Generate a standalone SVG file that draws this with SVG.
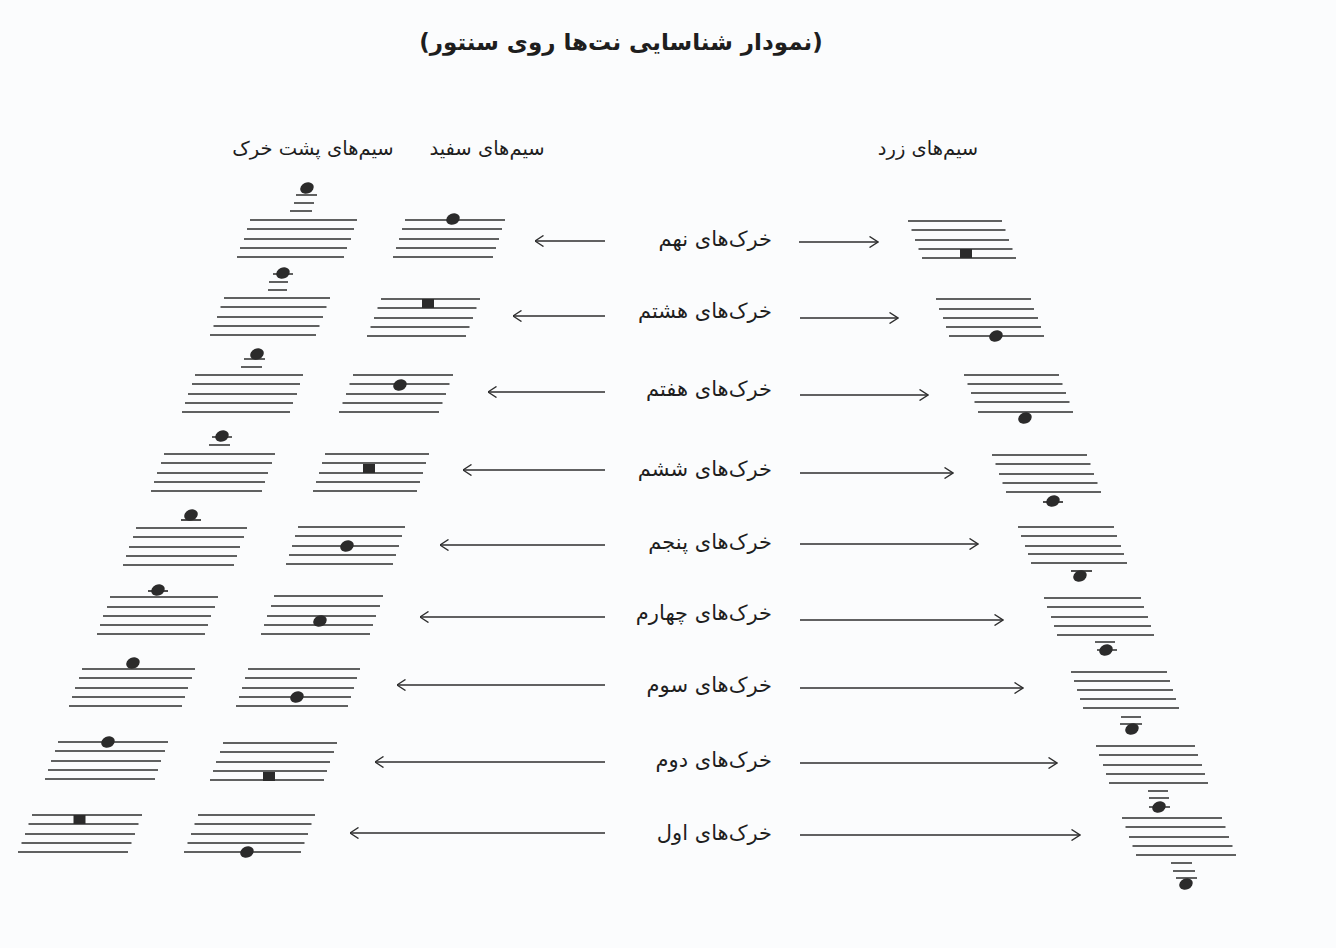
<svg xmlns="http://www.w3.org/2000/svg" width="1336" height="948" viewBox="0 0 1336 948">
<style>
.st{fill:none;stroke:#2e2e2e;stroke-width:1.7}
.lg{fill:none;stroke:#2e2e2e;stroke-width:1.7}
.nt{fill:#2b2b2b}
.ar{fill:none;stroke:#2e2e2e;stroke-width:1.4}
.tx{font-family:"DejaVu Sans",sans-serif;fill:#1e1e1e}
.lbl{font-size:21px}
.hd{font-size:19.5px}
.ti{font-size:23px;font-weight:bold}
</style>
<defs>
<marker id="ah" viewBox="0 0 10 12" refX="9.5" refY="6" markerWidth="10" markerHeight="12" markerUnits="userSpaceOnUse" orient="auto">
<path d="M1,0.5 L9.5,6 L1,11.5" fill="none" stroke="#2e2e2e" stroke-width="1.4"/>
</marker>
</defs>
<rect width="1336" height="948" fill="#fbfcfd"/>

<text class="tx ti" x="621" y="50" text-anchor="middle" direction="rtl">(نمودار شناسایی نت‌ها روی سنتور)</text>

<g id="headers">
<text class="tx hd" x="313" y="155" text-anchor="middle" direction="rtl">سیم‌های پشت خرک</text>
<text class="tx hd" x="487" y="155" text-anchor="middle" direction="rtl">سیم‌های سفید</text>
<text class="tx hd" x="928" y="155" text-anchor="middle" direction="rtl">سیم‌های زرد</text>
</g>

<g id="labels">
<text class="tx lbl" x="772" y="246" direction="rtl" text-anchor="start">خرک‌های نهم</text>
<text class="tx lbl" x="772" y="318" direction="rtl" text-anchor="start">خرک‌های هشتم</text>
<text class="tx lbl" x="772" y="396" direction="rtl" text-anchor="start">خرک‌های هفتم</text>
<text class="tx lbl" x="772" y="476" direction="rtl" text-anchor="start">خرک‌های ششم</text>
<text class="tx lbl" x="772" y="549" direction="rtl" text-anchor="start">خرک‌های پنجم</text>
<text class="tx lbl" x="772" y="620" direction="rtl" text-anchor="start">خرک‌های چهارم</text>
<text class="tx lbl" x="772" y="692" direction="rtl" text-anchor="start">خرک‌های سوم</text>
<text class="tx lbl" x="772" y="767" direction="rtl" text-anchor="start">خرک‌های دوم</text>
<text class="tx lbl" x="772" y="840" direction="rtl" text-anchor="start">خرک‌های اول</text>
</g>

<g id="connectors">
<line class="ar" x1="605" y1="241" x2="535" y2="241" marker-end="url(#ah)"/>
<line class="ar" x1="605" y1="316" x2="513" y2="316" marker-end="url(#ah)"/>
<line class="ar" x1="605" y1="392" x2="488" y2="392" marker-end="url(#ah)"/>
<line class="ar" x1="605" y1="470" x2="463" y2="470" marker-end="url(#ah)"/>
<line class="ar" x1="605" y1="545" x2="440" y2="545" marker-end="url(#ah)"/>
<line class="ar" x1="605" y1="617" x2="420" y2="617" marker-end="url(#ah)"/>
<line class="ar" x1="605" y1="685" x2="397" y2="685" marker-end="url(#ah)"/>
<line class="ar" x1="605" y1="762" x2="375" y2="762" marker-end="url(#ah)"/>
<line class="ar" x1="605" y1="833" x2="350" y2="833" marker-end="url(#ah)"/>
<line class="ar" x1="799" y1="242" x2="878" y2="242" marker-end="url(#ah)"/>
<line class="ar" x1="800" y1="318" x2="898" y2="318" marker-end="url(#ah)"/>
<line class="ar" x1="800" y1="395" x2="928" y2="395" marker-end="url(#ah)"/>
<line class="ar" x1="800" y1="473" x2="953" y2="473" marker-end="url(#ah)"/>
<line class="ar" x1="800" y1="544" x2="978" y2="544" marker-end="url(#ah)"/>
<line class="ar" x1="800" y1="620" x2="1003" y2="620" marker-end="url(#ah)"/>
<line class="ar" x1="800" y1="688" x2="1023" y2="688" marker-end="url(#ah)"/>
<line class="ar" x1="800" y1="763" x2="1057" y2="763" marker-end="url(#ah)"/>
<line class="ar" x1="800" y1="835" x2="1080" y2="835" marker-end="url(#ah)"/>
</g>

<g id="back-9">
<path class="st" d="M250 220H357M247 229H354M244 239H351M240 248H347M237 257H344"/>
<path class="lg" d="M296 195H317M294 203H314M290 211H312"/>
<ellipse class="nt" cx="307" cy="188" rx="7" ry="5.5" transform="rotate(-25 307 188)"/>
</g>
<g id="back-8">
<path class="st" d="M224 298H330M220.5 307H326.5M217 317H323M213.5 326H319.5M210 335H316"/>
<path class="lg" d="M273 274H293M269 282H288M268 290H287"/>
<ellipse class="nt" cx="283" cy="273" rx="7" ry="5.5" transform="rotate(-25 283 273)"/>
</g>
<g id="back-7">
<path class="st" d="M195 375H303M192 384H300M188 394H297M185 403H293M182 412H290"/>
<path class="lg" d="M244 359H265M241 367H262"/>
<ellipse class="nt" cx="257" cy="354" rx="7" ry="5.5" transform="rotate(-25 257 354)"/>
</g>
<g id="back-6">
<path class="st" d="M164 454H275M161 463H272M157 473H268M154 482H265M151 491H262"/>
<path class="lg" d="M212 437H232M209 445H230"/>
<ellipse class="nt" cx="222" cy="436" rx="7" ry="5.5" transform="rotate(-25 222 436)"/>
</g>
<g id="back-5">
<path class="st" d="M136 528H247M133 537H244M129 547H240M126 556H237M123 565H234"/>
<path class="lg" d="M181 520H201"/>
<ellipse class="nt" cx="191" cy="515" rx="7" ry="5.5" transform="rotate(-25 191 515)"/>
</g>
<g id="back-4">
<path class="st" d="M110 597H218M107 607H215M103 616H211M100 625H208M97 634H205"/>
<path class="lg" d="M148 591H168"/>
<ellipse class="nt" cx="158" cy="590" rx="7" ry="5.5" transform="rotate(-25 158 590)"/>
</g>
<g id="back-3">
<path class="st" d="M82 669H195M79 678H192M75 688H188M72 697H185M69 706H182"/>
<ellipse class="nt" cx="133" cy="663" rx="7" ry="5.5" transform="rotate(-25 133 663)"/>
</g>
<g id="back-2">
<path class="st" d="M58 742H168M55 751H165M51 761H161M48 770H158M45 779H155"/>
<ellipse class="nt" cx="108" cy="742" rx="7" ry="5.5" transform="rotate(-25 108 742)"/>
</g>
<g id="back-1">
<path class="st" d="M32 815H142M28.5 824H138.5M25 834H135M21.5 843H131.5M18 852H128"/>
<rect class="nt" x="73.5" y="815" width="12" height="9"/>
</g>

<g id="white-9">
<path class="st" d="M405 220H505M402 229H502M399 239H499M396 248H496M393 257H493"/>
<ellipse class="nt" cx="453" cy="219" rx="7" ry="5.5" transform="rotate(-25 453 219)"/>
</g>
<g id="white-8">
<path class="st" d="M381 299H480M377.5 308H476.5M374 318H473M370.5 327H469.5M367 336H466"/>
<rect class="nt" x="422" y="299" width="12" height="9"/>
</g>
<g id="white-7">
<path class="st" d="M353 375H453M349.5 384H449.5M346 394H446M342.5 403H442.5M339 412H439"/>
<ellipse class="nt" cx="400" cy="385" rx="7" ry="5.5" transform="rotate(-25 400 385)"/>
</g>
<g id="white-6">
<path class="st" d="M325 454H429M322 463H426M319 473H423M316 482H420M313 491H417"/>
<rect class="nt" x="363" y="464" width="12" height="9"/>
</g>
<g id="white-5">
<path class="st" d="M298 527H405M295 536H402M292 546H399M289 555H396M286 564H393"/>
<ellipse class="nt" cx="347" cy="546" rx="7" ry="5.5" transform="rotate(-25 347 546)"/>
</g>
<g id="white-4">
<path class="st" d="M274 596H383M271 606H380M267 616H376M264 625H373M261 634H370"/>
<ellipse class="nt" cx="320" cy="621" rx="7" ry="5.5" transform="rotate(-25 320 621)"/>
</g>
<g id="white-3">
<path class="st" d="M248 669H360M245 678H357M242 688H354M239 697H351M236 706H348"/>
<ellipse class="nt" cx="297" cy="697" rx="7" ry="5.5" transform="rotate(-25 297 697)"/>
</g>
<g id="white-2">
<path class="st" d="M223 743H337M220 752H334M216 762H330M213 771H327M210 780H324"/>
<rect class="nt" x="263" y="772" width="12" height="9"/>
</g>
<g id="white-1">
<path class="st" d="M198 815H315M194.5 824H311.5M191 834H308M187.5 843H304.5M184 852H301"/>
<ellipse class="nt" cx="247" cy="852" rx="7" ry="5.5" transform="rotate(-25 247 852)"/>
</g>

<g id="yellow-9">
<path class="st" d="M908 221H1002M911.5 230H1005.5M915 240H1009M918.5 249H1012.5M922 258H1016"/>
<rect class="nt" x="960" y="249" width="12" height="9"/>
</g>
<g id="yellow-8">
<path class="st" d="M936 299H1031M939 309H1034M943 318H1038M946 327H1041M949 336H1044"/>
<ellipse class="nt" cx="996" cy="336" rx="7" ry="5.5" transform="rotate(-25 996 336)"/>
</g>
<g id="yellow-7">
<path class="st" d="M964 375H1059M967.5 384H1062.5M971 393H1066M974.5 402H1069.5M978 412H1073"/>
<ellipse class="nt" cx="1025" cy="418" rx="7" ry="5.5" transform="rotate(-25 1025 418)"/>
</g>
<g id="yellow-6">
<path class="st" d="M992 455H1087M995.5 464H1090.5M999 474H1094M1002.5 483H1097.5M1006 492H1101"/>
<path class="lg" d="M1043 502H1063"/>
<ellipse class="nt" cx="1053" cy="501" rx="7" ry="5.5" transform="rotate(-25 1053 501)"/>
</g>
<g id="yellow-5">
<path class="st" d="M1018 527H1114M1021 536H1117M1025 546H1121M1028 554H1124M1031 563H1127"/>
<path class="lg" d="M1071 571H1092"/>
<ellipse class="nt" cx="1080" cy="576" rx="7" ry="5.5" transform="rotate(-25 1080 576)"/>
</g>
<g id="yellow-4">
<path class="st" d="M1044 598H1141M1047 607H1144M1051 617H1148M1054 626H1151M1057 635H1154"/>
<path class="lg" d="M1095 642H1115M1097 650H1117"/>
<ellipse class="nt" cx="1106" cy="650" rx="7" ry="5.5" transform="rotate(-25 1106 650)"/>
</g>
<g id="yellow-3">
<path class="st" d="M1071 672H1167M1074 681H1170M1077 690H1173M1080 699H1176M1083 708H1179"/>
<path class="lg" d="M1121 717H1141M1120 724H1142"/>
<ellipse class="nt" cx="1132" cy="729" rx="7" ry="5.5" transform="rotate(-25 1132 729)"/>
</g>
<g id="yellow-2">
<path class="st" d="M1096 746H1195M1099 755H1198M1103 765H1202M1106 774H1205M1109 783H1208"/>
<path class="lg" d="M1148 791H1168M1149 798H1169M1149 807H1170"/>
<ellipse class="nt" cx="1159" cy="807" rx="7" ry="5.5" transform="rotate(-25 1159 807)"/>
</g>
<g id="yellow-1">
<path class="st" d="M1122 818H1222M1125.5 827H1225.5M1129 837H1229M1132.5 846H1232.5M1136 855H1236"/>
<path class="lg" d="M1171 863H1192M1173 871H1195M1176 878H1197"/>
<ellipse class="nt" cx="1186" cy="884" rx="7" ry="5.5" transform="rotate(-25 1186 884)"/>
</g>
</svg>
